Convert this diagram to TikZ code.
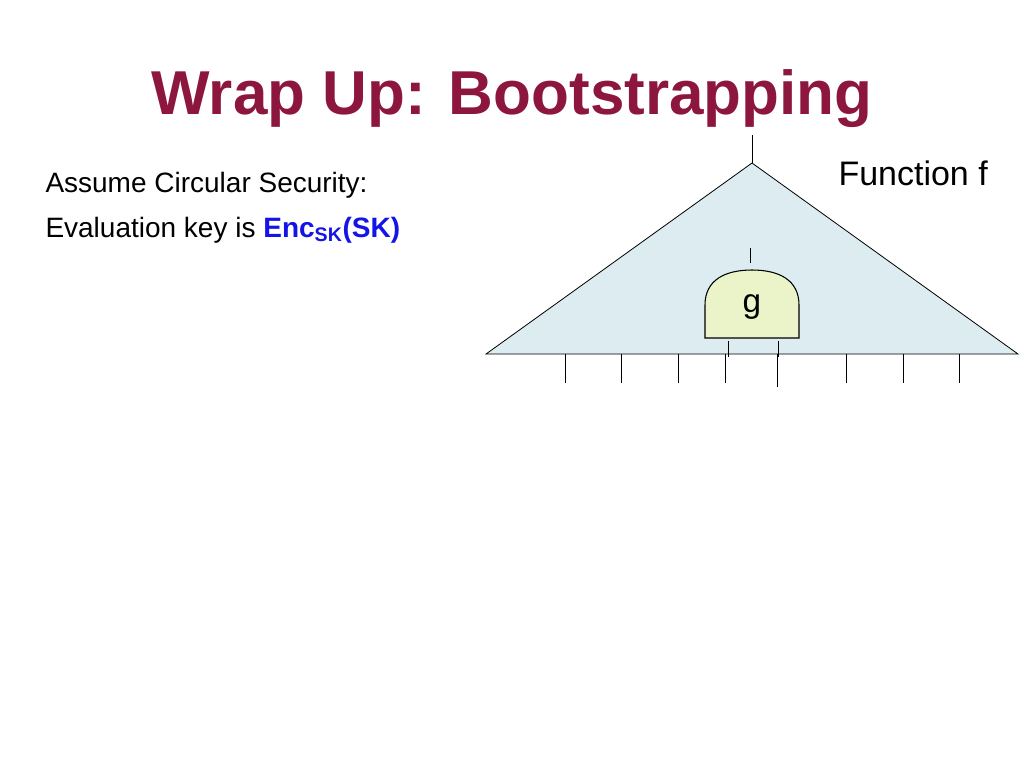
\documentclass[tikz,border=0pt]{standalone}
\usepackage{fontspec}
\setmainfont{Liberation Sans}
\definecolor{titlered}{RGB}{140,22,62}
\definecolor{keyblue}{RGB}{20,20,230}
\definecolor{triblue}{RGB}{220,236,240}
\definecolor{gategreen}{RGB}{234,244,200}
\tikzset{every picture/.style={line width=0.75pt}}
\tikzset{wire/.style={draw=black,line width=0.75pt}}
\begin{document}
\begin{tikzpicture}[x=0.75pt,y=0.75pt,yscale=-1,xscale=1]
\useasboundingbox (0,0) rectangle (1024,768);

% Title
\node (title) at (512,99) {\fontsize{46.5}{52}\selectfont\bfseries\color{titlered}Wrap Up: Bootstrapping};

% Text Node
\node (assume) [anchor=west,inner sep=0pt] at (45,185) {\fontsize{21}{24}\selectfont Assume Circular Security:};
% Text Node
\node (evalkey) [anchor=west,inner sep=0pt] at (45,230) {\fontsize{21}{24}\selectfont Evaluation key is {\bfseries\color{keyblue}Enc\textsubscript{SK}(SK)}};
% Text Node
\node (func) [anchor=west,inner sep=0pt] at (838,173) {\fontsize{25.5}{30}\selectfont Function f};

% Triangle
\coordinate (apex) at (752,163);
\coordinate (bl) at (486,354);
\coordinate (br) at (1018,354);
\coordinate (out) at (752,135);
\draw [fill=triblue,line width=0.6pt] (apex) -- (br) -- (bl) -- cycle;
\draw [wire] (out) -- (apex);

% Gate g
\draw [fill=gategreen,line width=0.8pt] (705,338) -- (705,305) .. controls (705,280) and (725,270) .. (752,270) .. controls (779,270) and (799,280) .. (799,305) -- (799,338) -- cycle;
\node (g) at (752,307) {\fontsize{25}{30}\selectfont g};
\coordinate (gout) at (750,248);
\draw [wire] (gout) -- (750,263);
\draw [wire] (728,341) -- (728,357);
\draw [wire] (778,341) -- (778,357);

% Inputs
\foreach \x/\y in {565/383,621/383,678/383,725/383,777/387,846/383,903/383,959/383}
  \draw [wire] (\x,354) -- (\x,\y);

\end{tikzpicture}
\end{document}
